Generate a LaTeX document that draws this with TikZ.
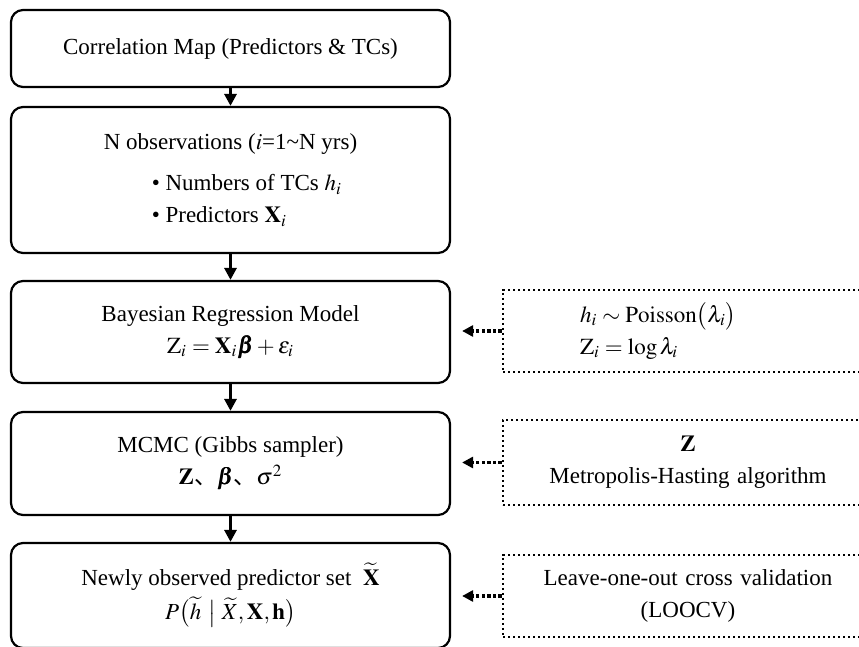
\documentclass[tikz,border=0pt]{standalone}
\usepackage{amsmath}
\usepackage{mathptmx}
\usepackage{bm}
\usepackage[no-math]{fontspec}
\setmainfont{Liberation Serif}
\newfontfamily\cjk{Noto Sans CJK SC}
\usetikzlibrary{arrows.meta}

\begin{document}
\begin{tikzpicture}[x=0.5pt, y=-0.5pt,
    every node/.style={font=\fontsize{11.5}{16}\selectfont},
    stage/.style={draw, rounded corners=6pt, line width=1.1pt, minimum width=219.5pt, inner sep=0pt, align=center},
    aside/.style={draw, line width=1.3pt, dash pattern=on 1.2pt off 1.3pt, text width=185pt, inner sep=0pt, align=center},
    flow/.style={line width=1.6pt, -{Triangle[length=6pt,width=6pt]}},
    hint/.style={line width=1.8pt, dash pattern=on 1.7pt off 1.1pt, -{Triangle[length=5.5pt,width=5.5pt]}, shorten >=5.5pt}]

    \useasboundingbox (0,0) rectangle (859,647);
    \clip (0,0) rectangle (859,647);

    % main chain
    \node[stage, minimum height=38.5pt] (corr) at (230.5,48.5) {Correlation Map (Predictors \& TCs)};
    \node[stage, minimum height=73pt] (obs) at (230.5,180) {\begin{tabular}{@{}l@{}}
        N observations ($i$=1\textasciitilde N yrs)\\[4.5pt]
        \hspace*{24pt}\textbullet{} Numbers of TCs $h_i$\\
        \hspace*{24pt}\textbullet{} Predictors $\mathbf{X}_i$
    \end{tabular}};
    \node[stage, minimum height=51pt] (bayes) at (230.5,332) {Bayesian Regression Model\\ $\mathrm{Z}_i=\mathbf{X}_i\bm{\beta}+\varepsilon_i$};
    \node[stage, minimum height=51.5pt] (mcmc) at (230.5,463.5) {MCMC (Gibbs sampler)\\ $\mathbf{Z}${\cjk 、}$\bm{\beta}${\cjk 、}$\sigma^2$};
    \node[stage, minimum height=52.5pt] (pred) at (230.5,595.5) {Newly observed predictor set\ \ $\widetilde{\mathbf{X}}$\\[1pt] $P\bigl(\widetilde{h}\,\bigm|\widetilde{X},\mathbf{X},\mathbf{h}\bigr)$};

    \draw[flow] (corr) -- (obs);
    \draw[flow] (obs) -- (bayes);
    \draw[flow] (bayes) -- (mcmc);
    \draw[flow] (mcmc) -- (pred);

    % side notes
    \node[aside, minimum height=41pt, align=left] (poisson) at (688,331) {\hspace*{38.5pt}$h_i\sim\mathrm{Poisson}\bigl(\lambda_i\bigr)$\\ \hspace*{38.5pt}$\mathrm{Z}_i=\log\lambda_i$};
    \node[aside, minimum height=42.5pt] (metro) at (688,462.5) {$\mathbf{Z}$\\ Metropolis-Hasting algorithm};
    \node[aside, minimum height=41pt] (loocv) at (688,596) {Leave-one-out cross validation\\ (LOOCV)};

    \draw[hint] (poisson.west) -- (poisson.west -| bayes.east);
    \draw[hint] (metro.west) -- (metro.west -| mcmc.east);
    \draw[hint] (loocv.west) -- (loocv.west -| pred.east);

\end{tikzpicture}
\end{document}
